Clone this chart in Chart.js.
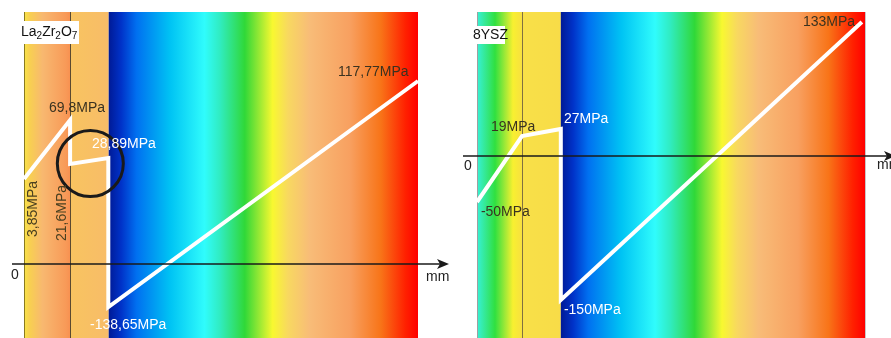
<!DOCTYPE html>
<html>
<head>
<meta charset="utf-8">
<script src="https://cdn.jsdelivr.net/npm/chart.js@4.4.1/dist/chart.umd.min.js"></script>
<style>
  html, body { margin: 0; padding: 0; background: #fff; }
  #wrap { position: relative; width: 891px; height: 338px; overflow: hidden; }
  canvas { position: absolute; top: 0; }
</style>
</head>
<body>
<div id="wrap">
  <canvas id="left" width="450" height="338" style="left:0"></canvas>
  <canvas id="right" width="441" height="338" style="left:450px"></canvas>
</div>
<script>
// schematic stress profiles, x = depth (0..100), y = plotted stress position
const lzoX = [0, 11.7, 11.7, 21.4, 21.4, 100]
const lzoY = [85, 144, 100, 106, -43, 183]
const lzoLabels = ['3,85MPa', '69,8MPa', '21,6MPa', '28,89MPa', '-138,65MPa', '117,77MPa']

const yszX = [0, 11.6, 21.6, 21.6, 99.2]
const yszY = [-46, 20, 27, -144, 134]
const yszLabels = ['-50MPa', '19MPa', '27MPa', '-150MPa', '133MPa']

// layer borders along depth
const lzoLayers = [0, 11.8, 21.5, 100]
const yszLayers = [0, 11.6, 21.6, 100]

const rainbow = [
    [0, '#001a96'], [0.04, '#0032c8'], [0.09, '#0070f0'], [0.2, '#00c4f4'],
    [0.31, '#30fcfc'], [0.36, '#30ecc0'], [0.44, '#30d838'], [0.53, '#f8f830'],
    [0.58, '#f8d860'], [0.65, '#f8bc78'], [0.78, '#f8a060'], [0.88, '#f87418'],
    [0.96, '#ff2000'], [1, '#ff0000']
]

const FONT = '14px "Liberation Sans", Arial, sans-serif'

function makePlugin(cfg) {
    return {
        id: 'schematic',
        beforeDatasetsDraw(chart) {
            const { ctx, chartArea: a, scales: { x, y } } = chart
            ctx.save()
            cfg.layers.forEach((stops, i) => {
                const x0 = x.getPixelForValue(cfg.borders[i])
                const x1 = x.getPixelForValue(cfg.borders[i + 1])
                const g = ctx.createLinearGradient(x0, 0, x1, 0)
                stops.forEach(s => g.addColorStop(s[0], s[1]))
                ctx.fillStyle = g
                ctx.fillRect(x0, a.top, x1 - x0, a.bottom - a.top)
            })
            cfg.edges.forEach(e => {
                const px = Math.round(x.getPixelForValue(e.at)) + 0.5
                ctx.strokeStyle = e.color
                ctx.lineWidth = 1
                ctx.beginPath()
                ctx.moveTo(px, a.top)
                ctx.lineTo(px, a.bottom)
                ctx.stroke()
            })
            ctx.restore()
        },
        afterDatasetsDraw(chart) {
            const { ctx, scales: { x, y } } = chart
            ctx.save()
            // horizontal axis with arrow
            const y0 = y.getPixelForValue(0)
            ctx.strokeStyle = '#1a1a1a'
            ctx.fillStyle = '#1a1a1a'
            ctx.lineWidth = 1.5
            ctx.beginPath()
            ctx.moveTo(cfg.axis[0], y0)
            ctx.lineTo(cfg.axis[1] - 6, y0)
            ctx.stroke()
            ctx.beginPath()
            ctx.moveTo(cfg.axis[1], y0)
            ctx.lineTo(cfg.axis[1] - 12, y0 - 5)
            ctx.lineTo(cfg.axis[1] - 9, y0)
            ctx.lineTo(cfg.axis[1] - 12, y0 + 5)
            ctx.closePath()
            ctx.fill()

            ctx.font = FONT
            ctx.textBaseline = 'middle'
            ctx.fillStyle = '#222'
            ctx.textAlign = 'center'
            ctx.fillText('0', cfg.zero[0], y0 + cfg.zero[1])
            ctx.textAlign = 'left'
            ctx.fillText('mm', cfg.mm[0], y0 + cfg.mm[1])

            if (cfg.circle) {
                ctx.strokeStyle = '#1a1a1a'
                ctx.lineWidth = 3
                ctx.beginPath()
                ctx.arc(x.getPixelForValue(cfg.circle.x), y.getPixelForValue(cfg.circle.y), cfg.circle.r, 0, Math.PI * 2)
                ctx.stroke()
            }

            cfg.notes.forEach(n => {
                const px = x.getPixelForValue(n.x)
                const py = y.getPixelForValue(n.y)
                ctx.fillStyle = n.color
                ctx.save()
                ctx.translate(px, py)
                if (n.rotate) {
                    ctx.rotate(-Math.PI / 2)
                    ctx.textAlign = 'center'
                } else {
                    ctx.textAlign = 'left'
                }
                ctx.fillText(n.text, 0, 0)
                ctx.restore()
            })

            // material name box
            const b = cfg.title
            ctx.fillStyle = '#fff'
            ctx.fillRect(b.box[0], b.box[1], b.box[2], b.box[3])
            ctx.fillStyle = '#111'
            ctx.textAlign = 'left'
            let cx = b.box[0] + 3
            const cy = b.box[1] + b.box[3] / 2
            b.parts.forEach(p => {
                ctx.font = p.sub ? '10px "Liberation Sans", Arial, sans-serif' : FONT
                ctx.fillText(p.t, cx, cy + (p.sub ? 4 : 0))
                cx += ctx.measureText(p.t).width
            })
            ctx.restore()
        }
    }
}

function buildChart(id, xs, ys, yMin, yMax, padding, cfg) {
    const points = xs.map((v, i) => ({ x: v, y: ys[i] }))
    return new Chart(document.getElementById(id), {
        type: 'line',
        data: {
            datasets: [{
                data: points,
                borderColor: '#ffffff',
                borderWidth: 4,
                borderJoinStyle: 'miter',
                pointRadius: 0,
                tension: 0,
                clip: false
            }]
        },
        options: {
            responsive: false,
            animation: false,
            devicePixelRatio: 1,
            layout: { padding: padding },
            plugins: { legend: { display: false }, tooltip: { enabled: false } },
            scales: {
                x: { type: 'linear', min: 0, max: 100, display: false },
                y: { type: 'linear', min: yMin, max: yMax, display: false }
            }
        },
        plugins: [makePlugin(cfg)]
    })
}

const dark = '#3a3220'

buildChart('left', lzoX, lzoY, -74, 252, { left: 24, right: 32, top: 12, bottom: 0 }, {
    borders: lzoLayers,
    layers: [
        [[0, '#f8e448'], [0.12, '#f8d050'], [0.4, '#f8b870'], [0.9, '#f89a58'], [1, '#f89050']],
        [[0, '#f8c460'], [1, '#f8bc68']],
        rainbow
    ],
    edges: [
        { at: 0, color: '#8a7a20' },
        { at: lzoLayers[1], color: '#5a4a30' }
    ],
    axis: [12, 449],
    zero: [15, 11],
    mm: [426, 13],
    circle: { x: 16.83, y: 100.5, r: 33 },
    notes: [
        { text: lzoLabels[1], x: 6.35, y: 156, color: dark },
        { text: lzoLabels[3], x: 17.26, y: 120, color: '#fff' },
        { text: lzoLabels[5], x: 79.7, y: 192, color: dark },
        { text: lzoLabels[4], x: 16.75, y: -61, color: '#fff' },
        { text: lzoLabels[0], x: 2.28, y: 55, color: '#4a4020', rotate: true },
        { text: lzoLabels[2], x: 9.64, y: 51, color: '#4a4020', rotate: true }
    ],
    title: {
        box: [18, 21, 61, 23],
        parts: [{ t: 'La' }, { t: '2', sub: true }, { t: 'Zr' }, { t: '2', sub: true }, { t: 'O' }, { t: '7', sub: true }]
    }
})

buildChart('right', yszX, yszY, -182, 144, { left: 27, right: 26, top: 12, bottom: 0 }, {
    borders: yszLayers,
    layers: [
        [[0, '#38f0d8'], [0.4, '#30e040'], [0.8, '#f8f030'], [1, '#f8e040']],
        [[0, '#f8e048'], [1, '#f8dc48']],
        rainbow
    ],
    edges: [
        { at: 0, color: '#a0a0a0' },
        { at: yszLayers[1], color: '#807040' },
        { at: 100, color: '#c8c8c8' }
    ],
    axis: [13, 446],
    zero: [18, 10],
    mm: [427, 9],
    notes: [
        { text: yszLabels[1], x: 3.6, y: 29, color: dark },
        { text: yszLabels[2], x: 22.4, y: 37, color: '#fff' },
        { text: yszLabels[4], x: 84.0, y: 134, color: dark },
        { text: yszLabels[0], x: 1.0, y: -56, color: dark },
        { text: yszLabels[3], x: 22.4, y: -154, color: '#fff' }
    ],
    title: {
        box: [20, 26, 35, 18],
        parts: [{ t: '8YSZ' }]
    }
})
</script>
</body>
</html>
